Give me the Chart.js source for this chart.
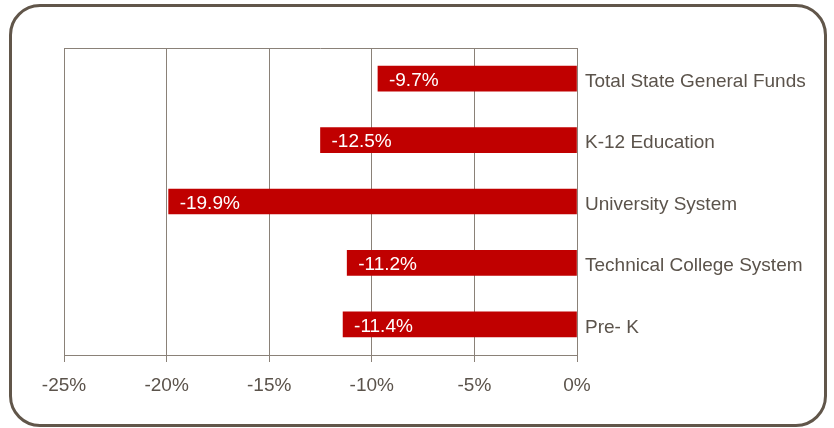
<!DOCTYPE html>
<html>
<head>
<meta charset="utf-8">
<script src="https://cdn.jsdelivr.net/npm/chart.js@4/dist/chart.umd.min.js"></script>
<style>
  html, body { margin: 0; padding: 0; background: #fff; }
  #wrap { position: relative; width: 834px; height: 428px; }
  #frame {
    position: absolute; left: 9px; top: 4px; width: 812px; height: 417px;
    border: 3px solid #61564a; border-radius: 31px; pointer-events: none;
  }
</style>
</head>
<body>
<div id="wrap">
  <canvas id="chart" width="834" height="428"></canvas>
  <div id="frame"></div>
</div>
<script>
// budget cut by area
const categories = ['Total State General Funds', 'K-12 Education', 'University System', 'Technical College System', 'Pre- K'];
const changes = [-9.7, -12.5, -19.9, -11.2, -11.4];
const xTicks = [-25, -20, -15, -10, -5, 0];

const textColor = '#5b534b';
const gridColor = '#8a8178';
const fontFamily = '"Liberation Sans", Arial, sans-serif';

// value text inside the bar, at its left end
const barLabels = {
  id: 'barLabels',
  afterDatasetsDraw(chart) {
    const ctx = chart.ctx;
    const meta = chart.getDatasetMeta(0);
    ctx.save();
    ctx.fillStyle = '#ffffff';
    ctx.font = '19px ' + fontFamily;
    ctx.textAlign = 'left';
    ctx.textBaseline = 'middle';
    meta.data.forEach((bar, i) => {
      ctx.fillText(changes[i].toFixed(1) + '%', bar.x + 11, bar.y + 2);
    });
    ctx.restore();
  }
};

// top edge of plot area
const topLine = {
  id: 'topLine',
  beforeDatasetsDraw(chart) {
    const { ctx, chartArea } = chart;
    ctx.save();
    ctx.strokeStyle = gridColor;
    ctx.lineWidth = 1;
    ctx.beginPath();
    ctx.moveTo(chartArea.left, chartArea.top + 0.5);
    ctx.lineTo(chartArea.right, chartArea.top + 0.5);
    ctx.stroke();
    ctx.restore();
  }
};

new Chart(document.getElementById('chart'), {
  type: 'bar',
  data: {
    labels: categories,
    datasets: [{
      data: changes,
      backgroundColor: '#c00000',
      barThickness: 25
    }]
  },
  options: {
    indexAxis: 'y',
    responsive: false,
    animation: false,
    layout: { padding: { left: 64, top: 48, right: 0, bottom: 0 } },
    plugins: { legend: { display: false }, tooltip: { enabled: false } },
    scales: {
      x: {
        min: -25,
        max: 0,
        afterBuildTicks: (scale) => { scale.ticks = xTicks.map(v => ({ value: v })); },
        afterFit: (scale) => { scale.height = 73; },
        grid: { color: gridColor, lineWidth: 1, tickLength: 7, drawTicks: true },
        border: { color: gridColor, width: 1 },
        ticks: {
          color: textColor,
          padding: 12,
          font: { family: fontFamily, size: 19 },
          callback: (v) => v + '%'
        }
      },
      y: {
        position: 'right',
        afterFit: (scale) => { scale.width = 257; },
        grid: { display: false },
        border: { display: true, color: gridColor, width: 1 },
        ticks: {
          color: textColor,
          padding: 0,
          labelOffset: 3,
          crossAlign: 'near',
          font: { family: fontFamily, size: 19 }
        }
      }
    }
  },
  plugins: [barLabels, topLine]
});
</script>
</body>
</html>
